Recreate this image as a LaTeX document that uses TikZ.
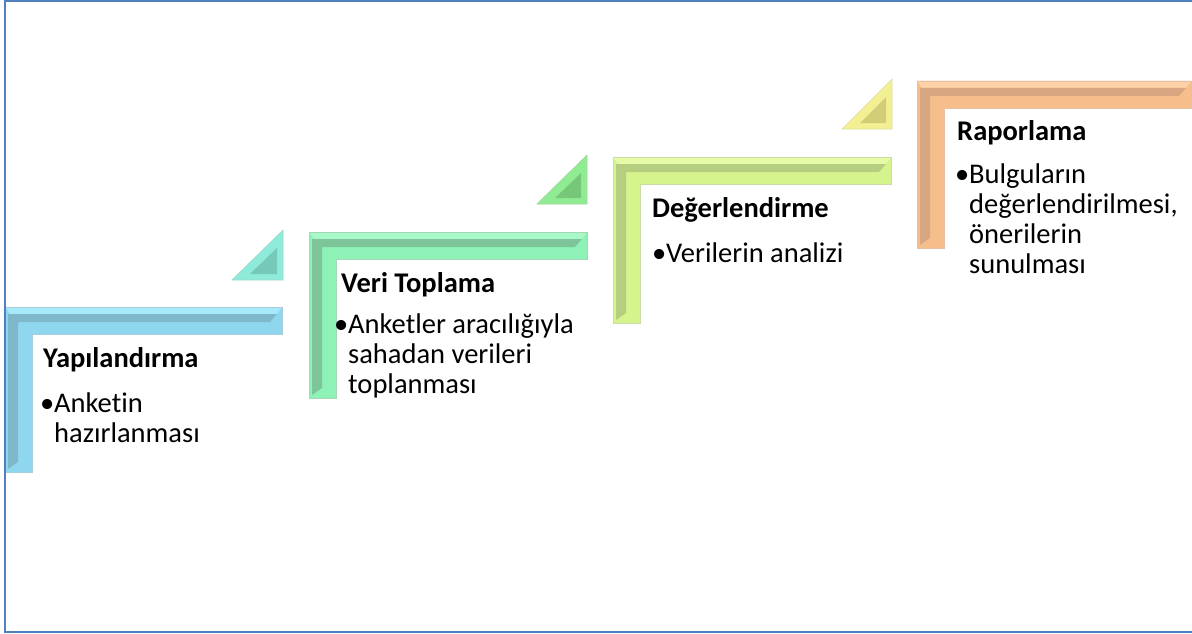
\documentclass[tikz,border=0pt]{standalone}
\usepackage{fontspec}
\setmainfont{Carlito}[Ligatures=NoCommon]

\definecolor{frameline}{HTML}{4F81BD}
\definecolor{s1face}{HTML}{8FD6EF}
\definecolor{s1rim}{HTML}{A8E8FB}
\definecolor{s1dark}{HTML}{80B8CB}
\definecolor{t1face}{HTML}{8EEBDA}
\definecolor{t1dark}{HTML}{76C8B8}
\definecolor{s2face}{HTML}{8EF2B6}
\definecolor{s2rim}{HTML}{A8F8C8}
\definecolor{s2dark}{HTML}{7EC49A}
\definecolor{t2face}{HTML}{90EC92}
\definecolor{t2dark}{HTML}{76C878}
\definecolor{s3face}{HTML}{D6F48E}
\definecolor{s3rim}{HTML}{E6FBA8}
\definecolor{s3dark}{HTML}{B5CE80}
\definecolor{t3face}{HTML}{F2F092}
\definecolor{t3dark}{HTML}{D2CE78}
\definecolor{s4face}{HTML}{F6BE8A}
\definecolor{s4rim}{HTML}{FCD2A6}
\definecolor{s4dark}{HTML}{D8A680}

% bevelled L frame: x1, y1, x2, y2, colour prefix
\newcommand{\stepframe}[5]{
  \fill[#5face] (#1,#2) -- (#3,#2) -- (#3,{#2+27}) -- ({#1+27},{#2+27}) -- ({#1+27},#4) -- (#1,#4) -- cycle;
  \fill[#5rim] (#1,#2) -- (#3,#2) -- ({#3-5},{#2+7}) -- ({#1+5},{#2+7}) -- cycle;
  \fill[#5dark] ({#1+3},{#2+7}) -- ({#3-5},{#2+7}) -- ({#3-12},{#2+15}) -- ({#1+13},{#2+15}) -- ({#1+13},{#4-10}) -- ({#1+3},{#4-3}) -- cycle;
  \draw[#5dark!70!white, line width=0.8pt] (#1,#2) -- (#3,#2) -- (#3,{#2+27}) -- ({#1+27},{#2+27}) -- ({#1+27},#4) -- (#1,#4) -- cycle;
}
% bevelled corner triangle: left x, bottom y, right x, top y, colour prefix
\newcommand{\steptri}[5]{
  \fill[#5face] (#1,#2) -- (#3,#2) -- (#3,#4) -- cycle;
  \fill[#5dark] ({#1+18},{#2-6}) -- ({#3-6},{#2-6}) -- ({#3-6},{#4+18}) -- cycle;
  \draw[#5dark!70!white, line width=0.6pt] (#1,#2) -- (#3,#2) -- (#3,#4) -- cycle;
}

\tikzset{
  steptitle/.style = {anchor=base west, inner sep=0pt, font=\fontsize{28.5}{30}\selectfont\bfseries},
  stepbody/.style = {anchor=base west, inner sep=0pt, text width=9cm, align=left, font=\fontsize{28.5}{30}\selectfont,
    execute at begin node={\spaceskip=0pt\xspaceskip=0pt}}
}

\begin{document}
\begin{tikzpicture}[x=1pt, y=-1pt]
        \useasboundingbox (0,0) rectangle (1192,634);
        \fill[white] (0,0) rectangle (1192,634);

        \stepframe{5}{307}{282}{472}{s1}
        \steptri{232}{280}{283}{230}{t1}
        \stepframe{309}{232}{587}{398}{s2}
        \steptri{537}{204}{587}{155}{t2}
        \stepframe{613}{157}{891}{323}{s3}
        \steptri{842}{129}{892}{79}{t3}
        \stepframe{917}{81}{1191}{248}{s4}

        \node (Yapilandirma) [steptitle] at (43,367) {Yapılandırma};
        \node (Yapilandirma Text) [stepbody] at (54,412) {\noindent\llap{•}Anketin\\hazırlanması};
        \node (Veri Toplama) [steptitle] at (341,292) {Veri Toplama};
        \node (Veri Toplama Text) [stepbody] at (348,333) {\noindent\llap{•}Anketler aracılığıyla\\sahadan verileri\\toplanması};
        \node (Degerlendirme) [steptitle] at (652,217) {Değerlendirme};
        \node (Degerlendirme Text) [stepbody] at (666,262) {\noindent\llap{•}Verilerin analizi};
        \node (Raporlama) [steptitle] at (957,140) {Raporlama};
        \node (Raporlama Text) [stepbody] at (969,183) {\noindent\llap{•}Bulguların\\değerlendirilmesi,\\önerilerin\\sunulması};

        \draw[frameline, line width=1.5pt] (5,1) rectangle (1195,632);
    \end{tikzpicture}
\end{document}
